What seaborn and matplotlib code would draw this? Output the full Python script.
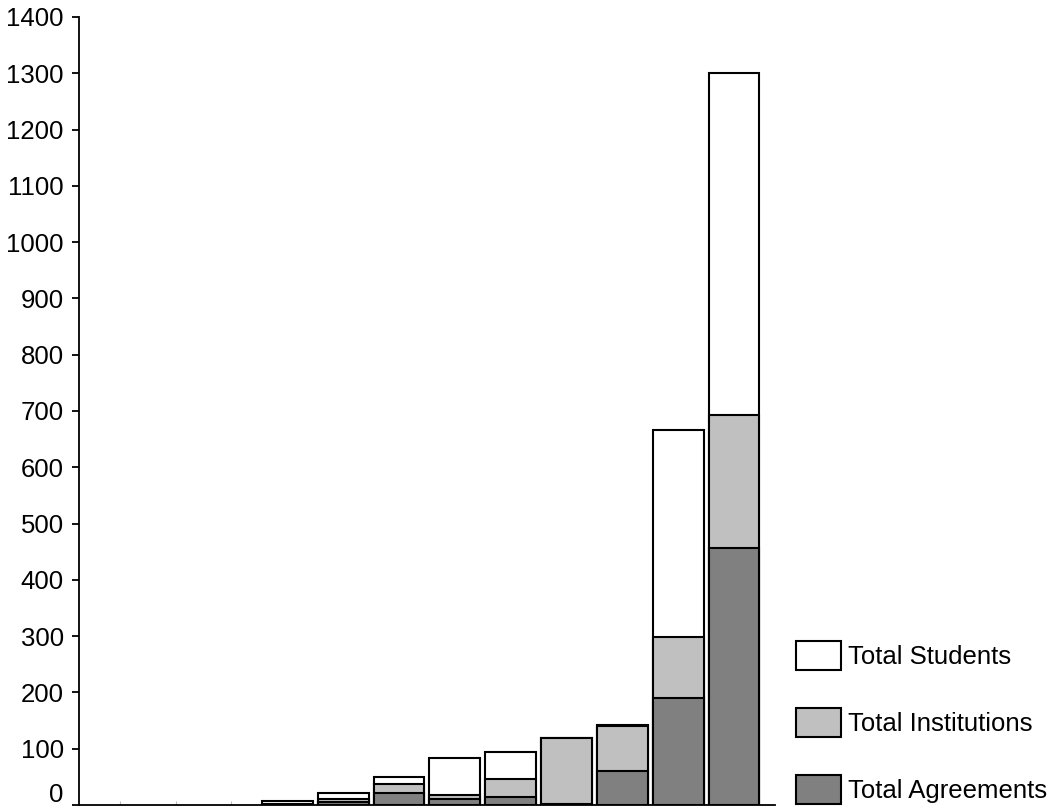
import matplotlib
matplotlib.use("Agg")
import matplotlib.pyplot as plt
from matplotlib.patches import Patch
import matplotlib.transforms as mtransforms
import seaborn as sns
import pandas as pd
import numpy as np

# data
categories = ["1", "2", "3", "4", "5", "6", "7", "8", "9", "10", "11", "12"]
agreements = [0, 0, 0, 0, 5, 21, 10, 14, 2, 60, 190, 457]
institutions = [0, 0, 0, 1, 6, 17, 7, 33, 117, 80, 108, 236]
students = [0, 0, 0, 6, 11, 12, 66, 48, 0, 3, 369, 607]
series_names = ["Total Students", "Total Institutions", "Total Agreements"]
series_colors = ["#FFFFFF", "#C0C0C0", "#808080"]

sns.set_style("ticks")
plt.rcParams["font.family"] = ["Liberation Sans", "DejaVu Sans"]
plt.rcParams["text.color"] = "black"

df = pd.DataFrame({
    "cat": categories,
    "agr": agreements,
    "inst": np.array(agreements) + np.array(institutions),
    "stud": np.array(agreements) + np.array(institutions) + np.array(students),
})

fig = plt.figure(figsize=(10.54, 8.08), dpi=100)
ax = fig.add_axes([0.075, 0.0037, 0.66, 0.9753])

# stacked look: draw cumulative totals back to front
for col, c in zip(["stud", "inst", "agr"], series_colors):
    sns.barplot(data=df, x="cat", y=col, color=c, edgecolor="black",
                linewidth=1.5, width=0.91, saturation=1, ax=ax, order=categories)

# empty bars should leave no outline on the axis
for p in ax.patches:
    if p.get_height() == 0:
        p.set_linewidth(0)

ax.set_xlim(-0.73, 11.73)
ax.set_ylim(0, 1400)
ax.set_yticks(range(0, 1401, 100))
ax.tick_params(axis="y", labelsize=18.5, length=5, width=1.3, color="black",
               labelcolor="black", pad=6)
ax.tick_params(axis="x", direction="in", length=3, color="#BBBBBB", labelbottom=False)
ax.set_xlabel("")
ax.set_ylabel("")
for s in ["left", "bottom"]:
    ax.spines[s].set_linewidth(1.3)
    ax.spines[s].set_color("black")
sns.despine(ax=ax)

# lift the "0" label so it stays inside the figure
lbl0 = ax.get_yticklabels()[0]
lbl0.set_transform(lbl0.get_transform() + mtransforms.ScaledTranslation(0, 9 / 72, fig.dpi_scale_trans))

handles = [Patch(facecolor=c, edgecolor="black", linewidth=1.5) for c in series_colors]
fig.legend(handles, series_names, loc="lower left", bbox_to_anchor=(0.755, 0.005),
           frameon=False, fontsize=18.5, handlelength=1.75, handleheight=1.35,
           labelspacing=1.48, handletextpad=0.3, borderpad=0, borderaxespad=0,
           labelcolor="black")

fig.savefig("out.png", dpi=100)
